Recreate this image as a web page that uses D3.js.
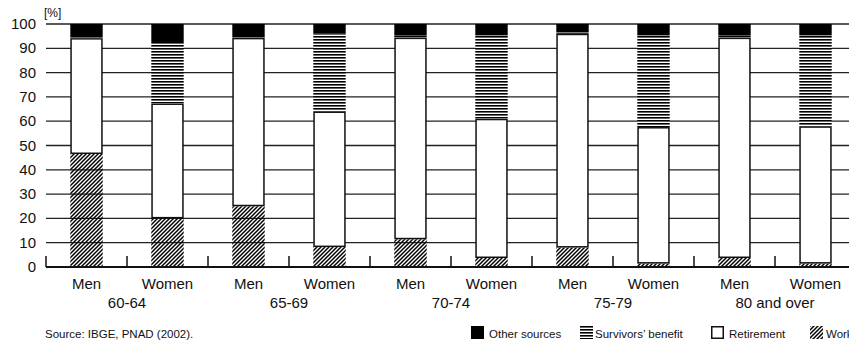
<!DOCTYPE html>
<html><head><meta charset="utf-8">
<script src="https://cdn.jsdelivr.net/npm/d3@7"></script>
<style>
html,body{margin:0;padding:0;background:#fff;overflow:hidden}
text{font-family:"Liberation Sans",Arial,sans-serif;fill:#111}
</style></head>
<body><svg id="c" width="849" height="347"></svg>
<script>
const groups = ["60-64","65-69","70-74","75-79","80 and over"];
const sexes = ["Men","Women"];
const work       = [46.5, 20.0, 25.0,  8.2, 11.4,  3.7,  8.0,  1.4,  3.7,  1.4];
const retirement = [47.7, 47.3, 69.3, 55.8, 83.0, 57.3, 88.0, 56.2, 90.7, 56.5];
const survivors  = [ 0.4, 25.3,  0.3, 32.0,  0.8, 34.3,  0.5, 37.7,  0.8, 37.4];
const other      = [ 5.4,  7.4,  5.4,  4.0,  4.8,  4.7,  3.5,  4.7,  4.8,  4.7];
const yTicks = [0,10,20,30,40,50,60,70,80,90,100];
const seriesNames = ["Work","Retirement","Survivors’ benefit","Other sources"];
const legendOrder = ["Other sources","Survivors’ benefit","Retirement","Work"];

const svg = d3.select("#c");
const defs = svg.append("defs");
// hatch pattern
const ph = defs.append("pattern").attr("id","hatch").attr("patternUnits","userSpaceOnUse")
  .attr("width",4).attr("height",4);
ph.append("path").attr("d","M-1,1 l2,-2 M0,4 l4,-4 M3,5 l2,-2")
  .attr("stroke","#000").attr("stroke-width",1.5);
// horizontal stripes
const ps = defs.append("pattern").attr("id","stripes").attr("patternUnits","userSpaceOnUse")
  .attr("width",4).attr("height",3);
ps.append("rect").attr("width",4).attr("height",3).attr("fill","#fff");
ps.append("rect").attr("y",0).attr("width",4).attr("height",1.6).attr("fill","#000");

const rows = [];
groups.forEach((g,gi)=>sexes.forEach((s,si)=>rows.push({key:gi*2+si, group:g, sex:s})));
rows.forEach((r)=>{r["Work"]=work[r.key];r["Retirement"]=retirement[r.key];
  r["Survivors’ benefit"]=survivors[r.key];r["Other sources"]=other[r.key];});

const x = d3.scaleBand().domain(rows.map(d=>d.key)).range([46,856]).paddingInner(0).paddingOuter(0);
const y = d3.scaleLinear().domain([0,100]).range([267,24]);
const bw = x.bandwidth()*0.4;

// gridlines
svg.append("g").selectAll("line").data(yTicks.filter(t=>t>0)).join("line")
  .attr("x1",46).attr("x2",849).attr("y1",d=>y(d)).attr("y2",d=>y(d))
  .attr("stroke","#222").attr("stroke-width",1.3);

// y labels
svg.append("g").selectAll("text").data(yTicks).join("text")
  .attr("x",36).attr("y",d=>y(d)+5).attr("text-anchor","end")
  .attr("font-size",15).text(d=>d);
svg.append("text").attr("x",44).attr("y",17).attr("font-size",12).text("[%]");

const stack = d3.stack().keys(seriesNames)(rows);
const fills = {"Work":"url(#hatch)","Retirement":"#fff","Survivors’ benefit":"url(#stripes)","Other sources":"#000"};
stack.forEach(layer=>{
  const k = layer.key;
  svg.append("g").selectAll("rect").data(layer).join("rect")
    .attr("x",d=>x(d.data.key)+(x.bandwidth()-bw)/2 + (k==="Retirement"?0.75:0))
    .attr("width",k==="Retirement"?bw-1.5:bw)
    .attr("y",d=>y(d[1]) + (k==="Retirement"?0.75:0))
    .attr("height",d=>Math.max(0,y(d[0])-y(d[1]) - (k==="Retirement"?1.5:0)))
    .attr("fill",fills[k])
    .attr("stroke",k==="Retirement"?"#111":"none")
    .attr("stroke-width",k==="Retirement"?1.5:0);
});

// x axis
svg.append("line").attr("x1",46).attr("x2",849).attr("y1",267).attr("y2",267)
  .attr("stroke","#111").attr("stroke-width",2);
const bounds = rows.map(d=>x(d.key));
svg.append("g").selectAll("line").data(bounds).join("line")
  .attr("x1",d=>d).attr("x2",d=>d).attr("y1",256).attr("y2",267)
  .attr("stroke","#111").attr("stroke-width",1.5);
svg.append("g").selectAll("text").data(rows).join("text")
  .attr("x",d=>x(d.key)+x.bandwidth()/2).attr("y",289).attr("text-anchor","middle")
  .attr("font-size",15).text(d=>d.sex);
svg.append("g").selectAll("text").data(groups).join("text")
  .attr("x",(d,i)=>x(i*2)+x.bandwidth()).attr("y",308).attr("text-anchor","middle")
  .attr("font-size",15).text(d=>d);

svg.append("text").attr("x",45).attr("y",338).attr("font-size",11.5).text("Source: IBGE, PNAD (2002).");

// legend
const legX = {"Other sources":471,"Survivors’ benefit":580,"Retirement":711,"Work":810};
const lg = svg.append("g").selectAll("g").data(legendOrder).join("g")
  .attr("transform",d=>`translate(${legX[d]},326)`);
lg.append("rect").attr("x",d=>d==="Retirement"?0.75:0).attr("y",d=>d==="Retirement"?0.75:0)
  .attr("width",d=>d==="Retirement"?11.5:13).attr("height",d=>d==="Retirement"?11.5:13)
  .attr("fill",d=>fills[d]).attr("stroke",d=>d==="Retirement"?"#111":"none").attr("stroke-width",1.5);
lg.append("text").attr("x",d=>d==="Other sources"?18:(d==="Survivors’ benefit"?15:(d==="Retirement"?18:16)))
  .attr("y",12).attr("font-size",11.5).text(d=>d);
</script></body></html>
